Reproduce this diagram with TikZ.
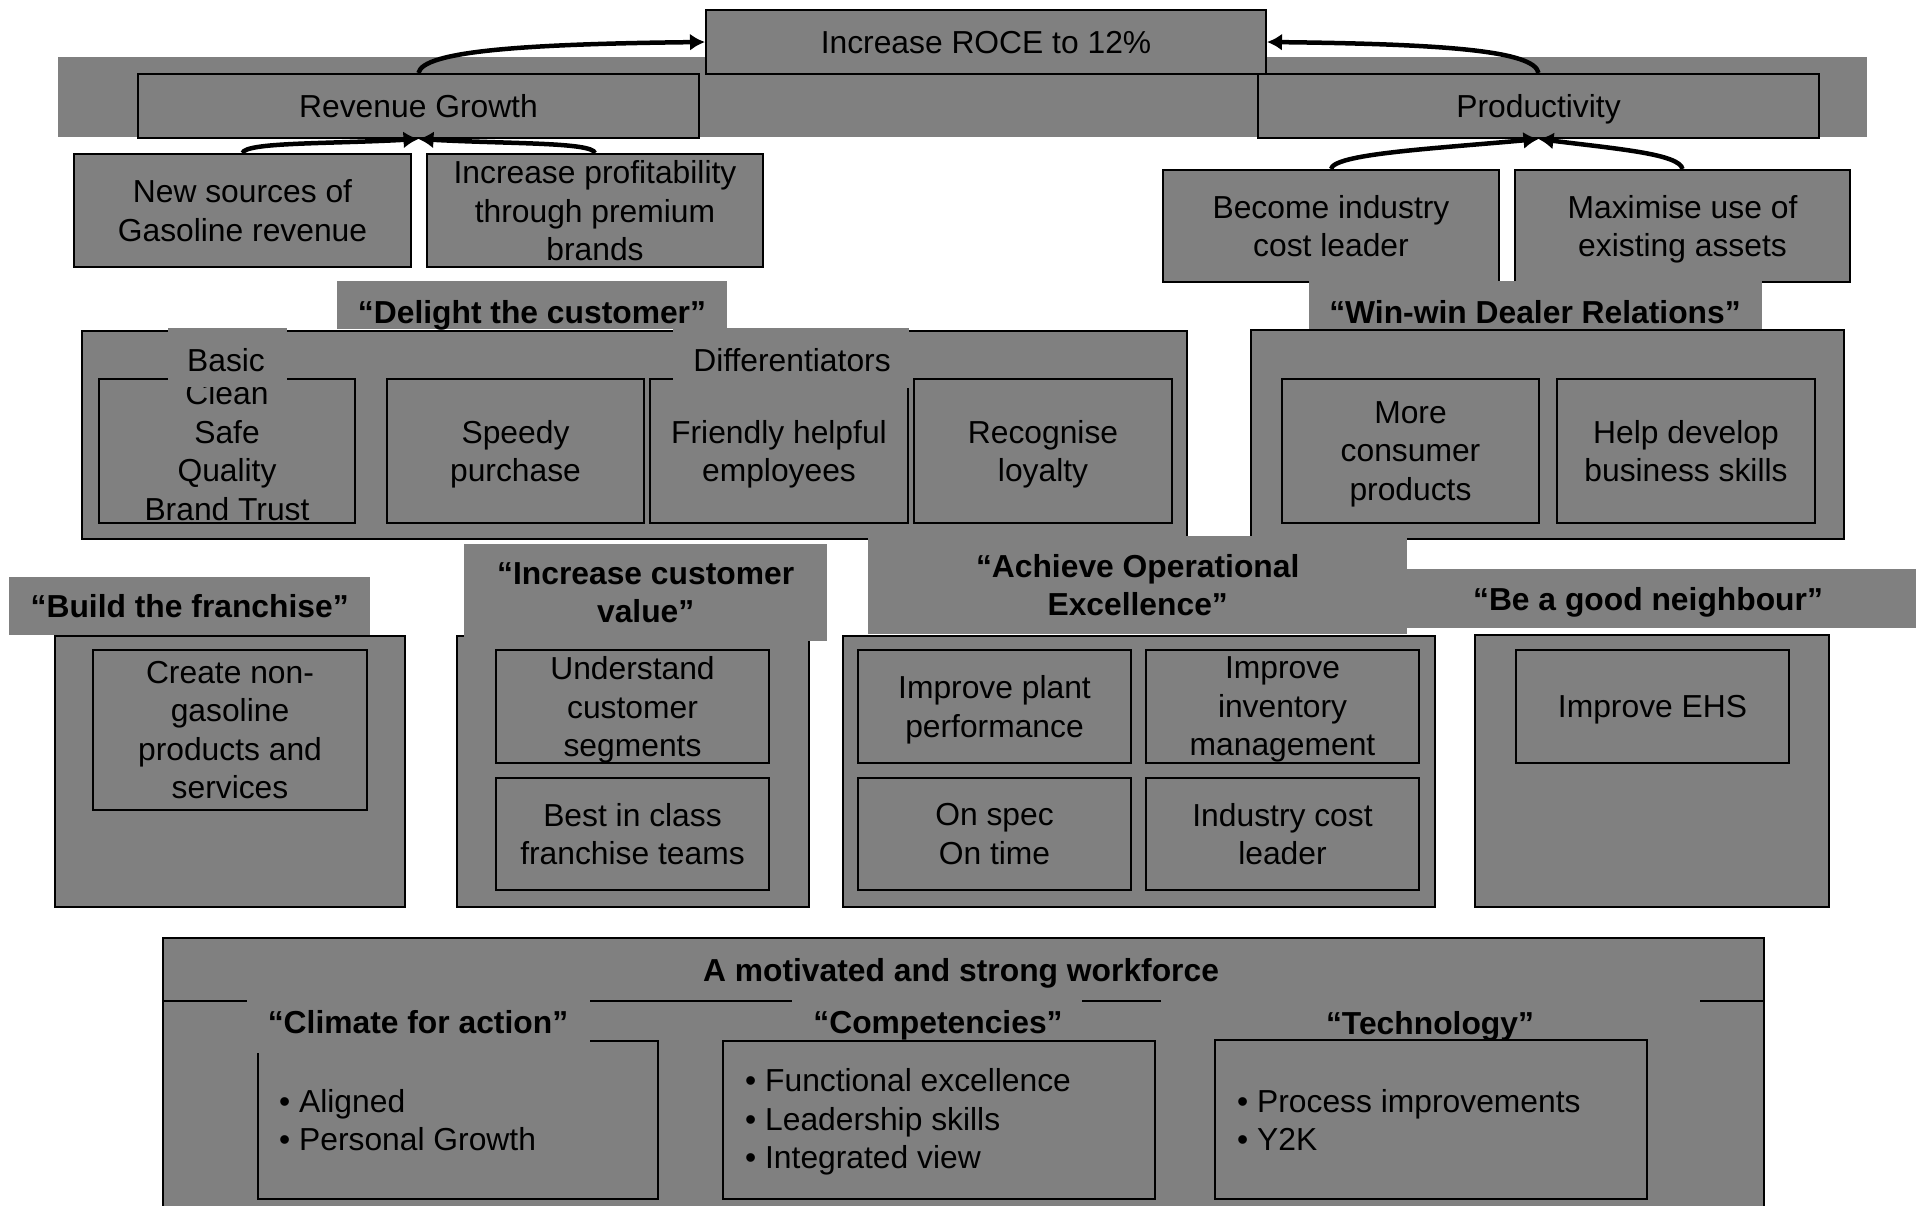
\documentclass[tikz,border=0pt]{standalone}
\usepackage{fontspec}
\setmainfont{Liberation Sans}
\usetikzlibrary{arrows.meta}
\definecolor{boxgrey}{RGB}{128,128,128}
\newcommand\fsz{\fontsize{31.8pt}{38.5pt}\selectfont}
\tikzset{
  box/.style={draw=black, line width=2pt, fill=boxgrey, inner sep=0pt,
              align=center, font=\fsz, anchor=north west, text depth=0pt},
  patch/.style={fill=boxgrey, draw=none, inner sep=0pt, anchor=north west},
  headbox/.style={patch, font=\fsz\bfseries, align=center},
  txt/.style={font=\fsz, inner sep=0pt, align=center},
  head/.style={font=\fsz\bfseries, inner sep=0pt, align=center},
  oneline/.style={text height=22.8pt, text depth=0pt},
  listing/.style={font=\fsz, inner sep=0pt, align=left, anchor=west},
  rule/.style={draw=black, line width=2pt},
  link/.style={line width=4.5pt, -{Latex[length=15pt,width=17pt]}}
}
\begin{document}
\begin{tikzpicture}[x=1pt, y=-1pt]
\useasboundingbox (0,0) rectangle (1918,1205);
\fill[white] (0,0) rectangle (1918,1205);
\clip (0,0) rectangle (1918,1205);

% ---- financial objectives ----
\node[patch, minimum width=1809pt, minimum height=80pt] (band) at (58,57) {};
\node[box, oneline, minimum width=560pt, minimum height=64pt] (roce) at (705,9) {Increase ROCE to 12\%};
\node[box, oneline, minimum width=561pt, minimum height=64pt] (rg) at (137,73) {Revenue Growth};
\node[box, oneline, minimum width=561pt, minimum height=64pt] (prod) at (1257,73) {Productivity};
\node[box, minimum width=337pt, minimum height=113pt] (ns) at (73,153) {New sources of\\Gasoline revenue};
\node[box, minimum width=336pt, minimum height=113pt] (ip) at (426,153) {Increase profitability\\through premium\\brands};
\node[box, minimum width=336pt, minimum height=112pt] (bec) at (1162,169) {Become industry\\cost leader};
\node[box, minimum width=335pt, minimum height=112pt] (maxa) at (1514,169) {Maximise use of\\existing assets};

\draw[link] (rg.north) .. controls +(4,-22) and +(-180,2) .. (roce.west);
\draw[link] (prod.north) .. controls +(-4,-22) and +(180,2) .. (roce.east);
\draw[link] (ns.north) .. controls +(3,-11) and +(-90,5) .. (rg.south);
\draw[link] (ip.north) .. controls +(-3,-11) and +(90,5) .. (rg.south);
\draw[link] (bec.north) .. controls +(3,-15) and +(-110,10) .. (prod.south);
\draw[link] (maxa.north) .. controls +(-3,-15) and +(80,10) .. (prod.south);

% ---- customer ----
\node[patch, minimum width=390pt, minimum height=48pt] (delighthead) at (337,281) {};
\node[patch, minimum width=453pt, minimum height=48pt] (winhead) at (1309,281) {};
\node[box, minimum width=1105pt, minimum height=208pt] (delight) at (81,330) {};
\node[box, minimum width=593pt, minimum height=209pt] (win) at (1250,329) {};
\node[box, minimum width=256pt, minimum height=144pt] (clean) at (98,378) {Clean\\Safe\\Quality\\Brand Trust};
\node[box, minimum width=257pt, minimum height=144pt] (speedy) at (386,378) {Speedy\\purchase};
\node[box, minimum width=258pt, minimum height=144pt] (friendly) at (649,378) {Friendly helpful\\employees};
\node[box, minimum width=258pt, minimum height=144pt] (recog) at (913,378) {Recognise\\loyalty};
\node[patch, minimum width=119pt, minimum height=59pt] (basic) at (168,328) {};
\node[txt, oneline] (basictxt) at (226,360) {Basic};
\node[patch, minimum width=236pt, minimum height=60pt] (diff) at (673,328) {};
\node[txt, oneline] (difftxt) at (792,360) {Differentiators};
\node[box, minimum width=257pt, minimum height=144pt] (more) at (1281,378) {More\\consumer\\products};
\node[box, minimum width=258pt, minimum height=144pt] (help) at (1556,378) {Help develop\\business skills};
\node[head, oneline] (delighttxt) at (532,312) {“Delight the customer”};
\node[head, oneline] (wintxt) at (1535,312) {“Win-win Dealer Relations”};

% ---- internal processes ----
\node[headbox, oneline, minimum width=361pt, minimum height=58pt] (buildhead) at (9,577) {“Build the franchise”};
\node[box, minimum width=350pt, minimum height=271pt] (build) at (54,635) {};
\node[box, minimum width=274pt, minimum height=160pt] (create) at (92,649) {Create non-\\gasoline\\products and\\services};

\node[box, minimum width=352pt, minimum height=271pt] (icv) at (456,635) {};
\node[headbox, minimum width=363pt, minimum height=97pt] (icvhead) at (464,544) {“Increase customer\\value”};
\node[box, minimum width=273pt, minimum height=113pt] (under) at (495,649) {Understand\\customer\\segments};
\node[box, minimum width=273pt, minimum height=112pt] (best) at (495,777) {Best in class\\franchise teams};

\node[headbox, minimum width=539pt, minimum height=98pt] (achhead) at (868,536) {“Achieve Operational\\Excellence”};
\node[box, minimum width=592pt, minimum height=271pt] (ach) at (842,635) {};
\node[box, minimum width=273pt, minimum height=113pt] (plant) at (857,649) {Improve plant\\performance};
\node[box, minimum width=273pt, minimum height=113pt] (inv) at (1145,649) {Improve\\inventory\\management};
\node[box, minimum width=273pt, minimum height=112pt] (spec) at (857,777) {On spec\\On time};
\node[box, minimum width=273pt, minimum height=112pt] (icl) at (1145,777) {Industry cost\\leader};

\node[patch, minimum width=509pt, minimum height=59pt] (behead) at (1407,569) {};
\node[head, oneline] (betxt) at (1648,599) {“Be a good neighbour”};
\node[box, minimum width=354pt, minimum height=272pt] (be) at (1474,634) {};
\node[box, oneline, minimum width=273pt, minimum height=113pt] (ehs) at (1515,649) {Improve EHS};

% ---- learning and growth ----
\node[box, minimum width=1601pt, minimum height=320pt] (ws) at (162,937) {};
\node[head, oneline] (wstxt) at (961,970) {A motivated and strong workforce};
\draw[rule] (ws.north west) ++(0,64) -- ++(1601,0);
\node[box, minimum width=400pt, minimum height=158pt] (climate) at (257,1040) {};
\node[box, minimum width=432pt, minimum height=158pt] (comp) at (722,1040) {};
\node[box, minimum width=432pt, minimum height=159pt] (tech) at (1214,1039) {};
\node[listing] (climlist) at (279,1120) {• Aligned\\• Personal Growth};
\node[listing] (complist) at (745,1122) {• Functional excellence\\• Leadership skills\\• Integrated view};
\node[listing] (techlist) at (1237,1120) {• Process improvements\\• Y2K};
\node[patch, minimum width=343pt, minimum height=54pt] (climhead) at (247,999) {};
\node[patch, minimum width=290pt, minimum height=39pt] (comphead) at (792,999) {};
\node[patch, minimum width=539pt, minimum height=39pt] (techhead) at (1161,999) {};
\node[head, oneline] (climtxt) at (418,1022) {“Climate for action”};
\node[head, oneline] (comptxt) at (938,1022) {“Competencies”};
\node[head, oneline] (techtxt) at (1430,1023) {“Technology”};
\end{tikzpicture}
\end{document}
